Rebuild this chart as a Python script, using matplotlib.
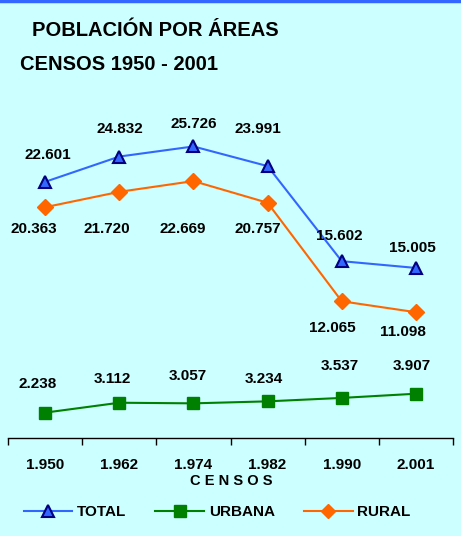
import matplotlib
matplotlib.use("Agg")
import matplotlib.pyplot as plt
from matplotlib.lines import Line2D

plt.rcParams['font.family'] = ['Liberation Sans', 'DejaVu Sans']

years = ["1.950", "1.962", "1.974", "1.982", "1.990", "2.001"]
total = [22601, 24832, 25726, 23991, 15602, 15005]
urbana = [2238, 3112, 3057, 3234, 3537, 3907]
rural = [20363, 21720, 22669, 20757, 12065, 11098]

total_lbl = ["22.601", "24.832", "25.726", "23.991", "15.602", "15.005"]
urbana_lbl = ["2.238", "3.112", "3.057", "3.234", "3.537", "3.907"]
rural_lbl = ["20.363", "21.720", "22.669", "20.757", "12.065", "11.098"]

# label offsets in pixels (dx, dy) relative to each point
total_off = [(3, 27), (1, 28), (0, 22), (-10, 37), (-2, 25), (-4, 20)]
urbana_off = [(-7, 29), (-7, 24), (-6, 27), (-4, 22), (-2, 32), (-4, 28)]
rural_off = [(-11, -22), (-12, -37), (-11, -48), (-10, -26), (-9, -27), (-13, -20)]

bg = "#CCFFFF"
fig = plt.figure(figsize=(4.61, 5.36), dpi=100, facecolor=bg)
W, H = 461, 536
ax = fig.add_axes([8 / W, (H - 438) / H, 445 / W, (438 - 98) / H])
ax.set_facecolor(bg)

x = list(range(len(years)))
ax.plot(x, total, color="#3366FF", lw=1.5, marker="^", ms=9,
        mfc="#3366FF", mec="#000080", mew=1.5, zorder=3)
ax.plot(x, urbana, color="#008000", lw=1.5, marker="s", ms=9,
        mfc="#008000", mec="#008000", zorder=3)
ax.plot(x, rural, color="#FF6600", lw=1.5, marker="D", ms=8,
        mfc="#FF6600", mec="#FF6600", zorder=3)

for vals, lbls, offs in [(total, total_lbl, total_off),
                         (urbana, urbana_lbl, urbana_off),
                         (rural, rural_lbl, rural_off)]:
    for i, (v, t, o) in enumerate(zip(vals, lbls, offs)):
        ax.annotate(t, (i, v), xytext=o, textcoords="offset pixels",
                    ha="center", va="center", fontsize=11, fontweight="bold")

ax.set_xlim(-0.5, len(years) - 0.5)
ax.set_ylim(0, 30000)
for s in ["top", "right", "left"]:
    ax.spines[s].set_visible(False)
ax.spines["bottom"].set_color("black")
ax.spines["bottom"].set_linewidth(1.0)
ax.set_yticks([])
ax.set_xticks([i - 0.5 for i in range(len(years) + 1)])
ax.set_xticklabels([])
ax.tick_params(axis="x", direction="out", length=5, width=1, color="black")
for i, t in enumerate(years):
    ax.annotate(t, (i, 0), xytext=(0, -27), textcoords="offset pixels",
                ha="center", va="center", fontsize=11, fontweight="bold",
                annotation_clip=False)

fig.text(231 / W, 1 - 481 / H, "C E N S O S", ha="center", va="center",
         fontsize=10.5, fontweight="bold")

fig.text(32 / W, 1 - 30 / H, "POBLACIÓN POR ÁREAS", ha="left", va="center",
         fontsize=14.5, fontweight="bold")
fig.text(20 / W, 1 - 64 / H, "CENSOS 1950 - 2001", ha="left", va="center",
         fontsize=14.5, fontweight="bold")

# top border
fig.add_artist(Line2D([0, 1], [1 - 1 / H, 1 - 1 / H], color="#3366FF",
                      lw=2.5, transform=fig.transFigure))

handles = [
    Line2D([], [], color="#3366FF", lw=1.5, marker="^", ms=8, mfc="#3366FF",
           mec="#000080", mew=1.5),
    Line2D([], [], color="#008000", lw=1.5, marker="s", ms=8, mfc="#008000",
           mec="#008000"),
    Line2D([], [], color="#FF6600", lw=1.5, marker="D", ms=7, mfc="#FF6600",
           mec="#FF6600"),
]
leg = fig.legend(handles, ["TOTAL", "URBANA", "RURAL"], loc="center",
                 bbox_to_anchor=(217 / W, 1 - 512 / H), ncol=3, frameon=False,
                 handlelength=3.2, columnspacing=1.9, handletextpad=0.3,
                 prop={"weight": "bold", "size": 11})

fig.savefig("out.png", dpi=100, facecolor=bg)
